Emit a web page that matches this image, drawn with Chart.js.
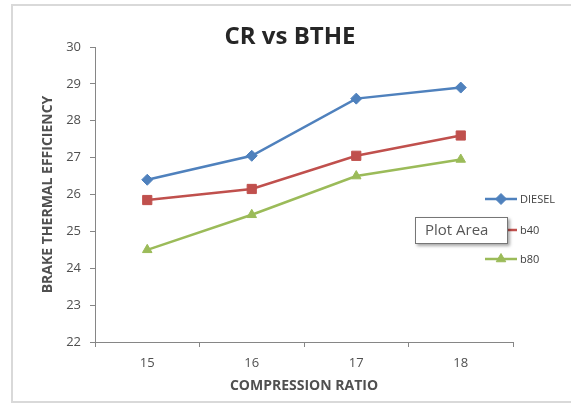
<!DOCTYPE html>
<html>
<head>
<meta charset="utf-8">
<script src="https://cdn.jsdelivr.net/npm/chart.js@4.4.1/dist/chart.umd.min.js"></script>
<style>
    body { margin: 0; background: #fff; }
    #box { position: relative; width: 571px; height: 403px; overflow: hidden; }
    #frame { position: absolute; left: 11px; top: 4px; width: 600px; height: 395px; border: 2px solid #d9d9d9; border-right: none; }
    canvas { position: absolute; left: 0; top: 0; }
</style>
</head>
<body>
<div id="box">
    <div id="frame"></div>
    <canvas id="myChart" width="571" height="403"></canvas>
</div>
<script>
let canvasChart = document.getElementById('myChart').getContext('2d');

// compression ratio on x, brake thermal efficiency on y
let ratios = ['15', '16', '17', '18'];
let diesel = [26.4, 27.05, 28.6, 28.9];
let b40 = [25.85, 26.15, 27.05, 27.6];
let b80 = [24.5, 25.45, 26.5, 26.95];

let yMin = 22;
let yMax = 30;

const axisGrey = '#868686';
const textGrey = '#505050';
const font = "'Open Sans', 'Liberation Sans', sans-serif";

// title, legend and the excel "Plot Area" hint
const extras = {
    id: 'extras',
    afterDraw(chart) {
        const ctx = chart.ctx;
        ctx.save();

        ctx.fillStyle = '#262626';
        ctx.font = 'bold 24px ' + font;
        ctx.textAlign = 'center';
        ctx.textBaseline = 'middle';
        ctx.fillText('CR vs BTHE', 290, 37);

        const rows = [199, 230, 259];
        chart.data.datasets.forEach((ds, i) => {
            const y = rows[i];
            ctx.strokeStyle = ds.borderColor;
            ctx.lineWidth = 2.5;
            ctx.beginPath();
            ctx.moveTo(485, y);
            ctx.lineTo(517, y);
            ctx.stroke();
            ctx.fillStyle = ds.backgroundColor;
            ctx.strokeStyle = ds.borderColor;
            ctx.lineWidth = 1;
            Chart.helpers.drawPoint(ctx, {
                pointStyle: ds.pointStyle,
                radius: ds.pointRadius,
                borderWidth: 1,
                rotation: 0
            }, 501, y);
            ctx.fillStyle = '#404040';
            ctx.font = '11px ' + font;
            ctx.textAlign = 'left';
            ctx.textBaseline = 'middle';
            ctx.fillText(ds.label, 520, y + 1);
        });

        ctx.shadowColor = 'rgba(0,0,0,0.35)';
        ctx.shadowBlur = 3;
        ctx.shadowOffsetX = 2;
        ctx.shadowOffsetY = 2;
        ctx.fillStyle = '#fff';
        ctx.fillRect(415, 217, 93, 27);
        ctx.shadowColor = 'transparent';
        ctx.strokeStyle = '#767676';
        ctx.lineWidth = 1;
        ctx.strokeRect(415.5, 217.5, 92, 26);
        ctx.fillStyle = '#575757';
        ctx.font = '15px ' + font;
        ctx.textAlign = 'left';
        ctx.textBaseline = 'middle';
        ctx.fillText('Plot Area', 425, 231);

        ctx.restore();
    }
};

const data = {
    labels: ratios,
    datasets: [
        {
            label: 'DIESEL',
            data: diesel,
            borderColor: '#4F81BD',
            backgroundColor: '#4F81BD',
            pointStyle: 'rectRot',
            pointRadius: 5.5
        },
        {
            label: 'b40',
            data: b40,
            borderColor: '#C0504D',
            backgroundColor: '#C0504D',
            pointStyle: 'rect',
            pointRadius: 6.5
        },
        {
            label: 'b80',
            data: b80,
            borderColor: '#9BBB59',
            backgroundColor: '#9BBB59',
            pointStyle: 'triangle',
            pointRadius: 5.5
        }
    ]
};

const config = {
    type: 'line',
    data: data,
    options: {
        responsive: false,
        animation: false,
        devicePixelRatio: 1,
        elements: {
            line: { borderWidth: 2.5, tension: 0 },
            point: { borderWidth: 1, hoverRadius: 6 }
        },
        layout: {
            padding: { left: 35, right: 58, top: 47, bottom: 0 }
        },
        plugins: {
            legend: { display: false },
            title: { display: false },
            tooltip: { enabled: false }
        },
        scales: {
            x: {
                offset: true,
                grid: { offset: true, drawOnChartArea: false, tickLength: 5, color: axisGrey },
                border: { display: true, color: axisGrey, width: 1 },
                ticks: { color: textGrey, font: { family: font, size: 13 }, padding: 8 },
                title: {
                    display: true,
                    text: 'COMPRESSION RATIO',
                    color: textGrey,
                    font: { family: font, size: 14, weight: 'bold' },
                    padding: { top: 4, bottom: 9 }
                },
                afterFit(scale) { scale.height = 61; }
            },
            y: {
                min: yMin,
                max: yMax,
                ticks: { stepSize: 1, color: textGrey, font: { family: font, size: 13 }, padding: 9 },
                grid: { drawOnChartArea: false, tickLength: 5, color: axisGrey },
                border: { display: true, color: axisGrey, width: 1 },
                title: {
                    display: true,
                    text: 'BRAKE THERMAL EFFICIENCY',
                    color: textGrey,
                    font: { family: font, size: 14, weight: 'bold' },
                    padding: { top: 5, bottom: 0 }
                },
                afterFit(scale) { scale.width = 60; }
            }
        }
    },
    plugins: [extras]
};

let myChart = new Chart(canvasChart, config);
</script>
</body>
</html>
